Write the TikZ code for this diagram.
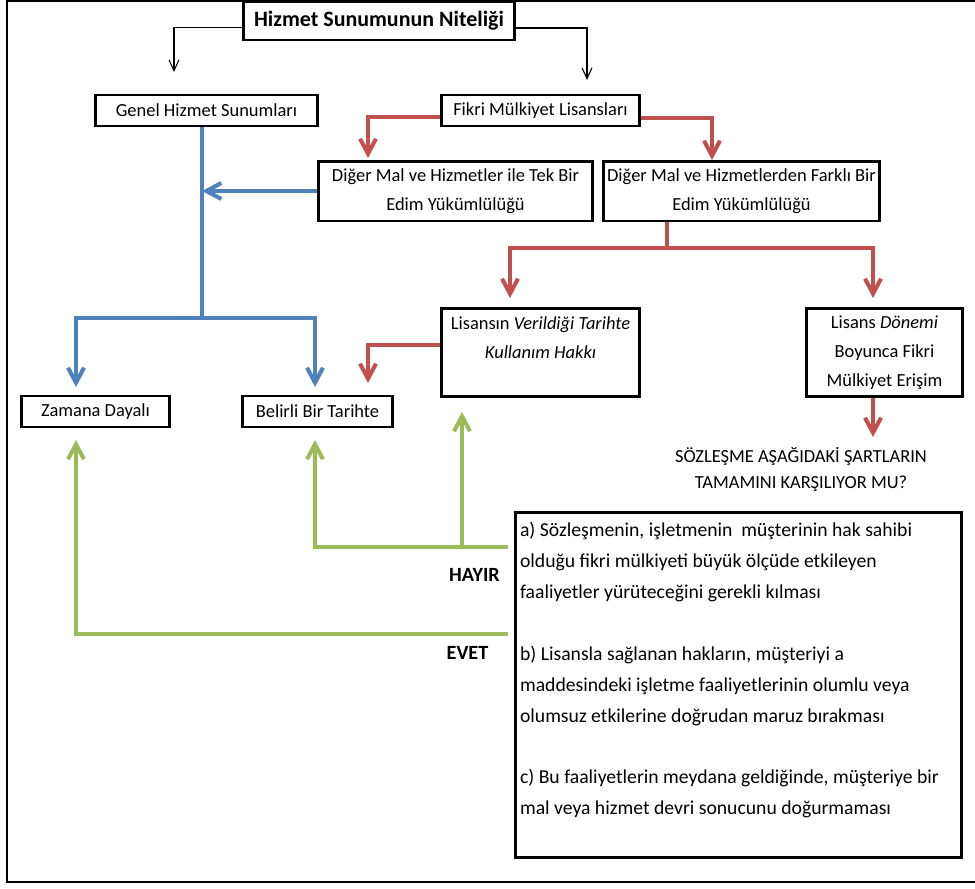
\documentclass[tikz,border=0pt]{standalone}
\usepackage{fontspec}
\setmainfont{Carlito}
\usetikzlibrary{arrows.meta}

\definecolor{kirmizi}{RGB}{192,80,77}
\definecolor{mavi}{RGB}{79,129,189}
\definecolor{yesil}{RGB}{155,187,89}

\begin{document}
\begin{tikzpicture}
            [x=0.02cm,y=-0.02cm,
             every node/.style={font=\fontsize{10.5}{16.5}\selectfont,align=center},
             box/.style={draw,line width=1.7pt,inner sep=0pt},
             thin arrow/.style={line width=0.6pt,-{Straight Barb[length=0.22cm,width=0.2cm]}},
             red arrow/.style={draw=kirmizi,line width=2.3pt,-{Straight Barb[length=0.3cm,width=0.32cm]}},
             blue arrow/.style={draw=mavi,line width=2.3pt,-{Straight Barb[length=0.3cm,width=0.32cm]}},
             green arrow/.style={draw=yesil,line width=2.3pt,-{Straight Barb[length=0.3cm,width=0.32cm]}}]
            \useasboundingbox (0,0) rectangle (975,889);
            \draw[line width=0.6pt] (975,1) -- (7,1) -- (7,882) -- (975,882);
            \node[box,minimum width=5.44cm,minimum height=0.76cm,font=\fontsize{12.5}{15}\selectfont\bfseries] (title) at (379,21) {Hizmet Sunumunun Niteliği};
            \node[box,minimum width=4.46cm,minimum height=0.62cm] (genel) at (206.5,110.5) {Genel Hizmet Sunumları};
            \node[box,minimum width=3.98cm,minimum height=0.62cm] (fikri) at (540.5,110.5) {Fikri Mülkiyet Lisansları};
            \node[box,minimum width=5.5cm,minimum height=1.2cm] (tek) at (455.5,191) {Diğer Mal ve Hizmetler ile Tek Bir\\Edim Yükümlülüğü};
            \node[box,minimum width=5.54cm,minimum height=1.2cm] (farkli) at (741.5,191) {Diğer Mal ve Hizmetlerden Farklı Bir\\Edim Yükümlülüğü};
            \node[box,minimum width=3.98cm,minimum height=1.78cm] (verildi) at (540.5,352.5) {Lisansın \textit{Verildiği Tarihte}\\\textit{Kullanım Hakkı}\\\mbox{}};
            \node[box,minimum width=3.14cm,minimum height=1.78cm] (donem) at (884.5,352.5) {Lisans \textit{Dönemi}\\Boyunca Fikri\\Mülkiyet Erişim};
            \node[box,minimum width=2.98cm,minimum height=0.62cm] (zamana) at (95.5,411.5) {Zamana Dayalı};
            \node[box,minimum width=3.02cm,minimum height=0.62cm] (belirli) at (317.5,411.5) {Belirli Bir Tarihte};
            \node[font=\fontsize{10.5}{14.8}\selectfont] (soru) at (801,470) {SÖZLEŞME AŞAĞIDAKİ ŞARTLARIN\\TAMAMINI KARŞILIYOR MU?};
            \node[box,inner xsep=0.1cm,inner ysep=0.2cm] (kosul) at (738.5,685) {\parbox[c][6.52cm][t]{8.74cm}{\raggedright\fontsize{11.2}{17.6}\selectfont
                a) Sözleşmenin, işletmenin~ müşterinin hak sahibi\\
                olduğu fikri mülkiyeti büyük ölçüde etkileyen\\
                faaliyetler yürüteceğini gerekli kılması\\[0.62cm]
                b) Lisansla sağlanan hakların, müşteriyi a\\
                maddesindeki işletme faaliyetlerinin olumlu veya\\
                olumsuz etkilerine doğrudan maruz bırakması\\[0.62cm]
                c) Bu faaliyetlerin meydana geldiğinde, müşteriye bir\\
                mal veya hizmet devri sonucunu doğurmaması}};
            \node[font=\fontsize{11.5}{14}\selectfont\bfseries] (hayir) at (474.5,575) {HAYIR};
            \node[font=\fontsize{11.5}{14}\selectfont\bfseries] (evet) at (467.5,653) {EVET};
            % free ends of the connectors
            \coordinate (uc1) at (174,72);
            \coordinate (uc2) at (587,80);
            \coordinate (uc3) at (368,158);
            \coordinate (uc4) at (712,160);
            \coordinate (kirmiziayrim) at (667,248);
            \coordinate (uc5) at (510,298);
            \coordinate (uc6) at (873,298);
            \coordinate (uc7) at (368,383);
            \coordinate (uc8) at (873,437);
            \coordinate (maviayrim) at (202,318);
            \coordinate (uc9) at (76,387);
            \coordinate (uc10) at (315,387);
            \coordinate (uc11) at (76,440);
            \coordinate (uc12) at (315,440);
            \coordinate (uc13) at (462,412);
            \coordinate (hayirhat) at (508,547);
            \coordinate (evethat) at (508,634);
            % black
            \draw[thin arrow] ([yshift=-0.13cm]title.west) -| (uc1);
            \draw[thin arrow] ([yshift=-0.14cm]title.east) -| (uc2);
            % red
            \draw[red arrow] ([yshift=-0.13cm]fikri.west) -| (uc3);
            \draw[red arrow] ([yshift=-0.15cm]fikri.east) -| (uc4);
            \draw[draw=kirmizi,line width=2.3pt] (farkli.south -| kirmiziayrim) -- (kirmiziayrim);
            \draw[red arrow] (kirmiziayrim) -| (uc5);
            \draw[red arrow] (kirmiziayrim) -| (uc6);
            \draw[red arrow] ([yshift=0.15cm]verildi.west) -| (uc7);
            \draw[red arrow] (donem.south -| uc8) -- (uc8);
            % blue
            \draw[draw=mavi,line width=2.3pt] (genel.south -| maviayrim) -- (maviayrim);
            \draw[blue arrow] (tek.west) -- (tek.west -| maviayrim);
            \draw[blue arrow] (maviayrim) -| (uc9);
            \draw[blue arrow] (maviayrim) -| (uc10);
            % green
            \draw[green arrow] (hayirhat) -| (uc12);
            \draw[green arrow] (hayirhat -| uc13) -- (uc13);
            \draw[green arrow] (evethat) -| (uc11);
\end{tikzpicture}
\end{document}
